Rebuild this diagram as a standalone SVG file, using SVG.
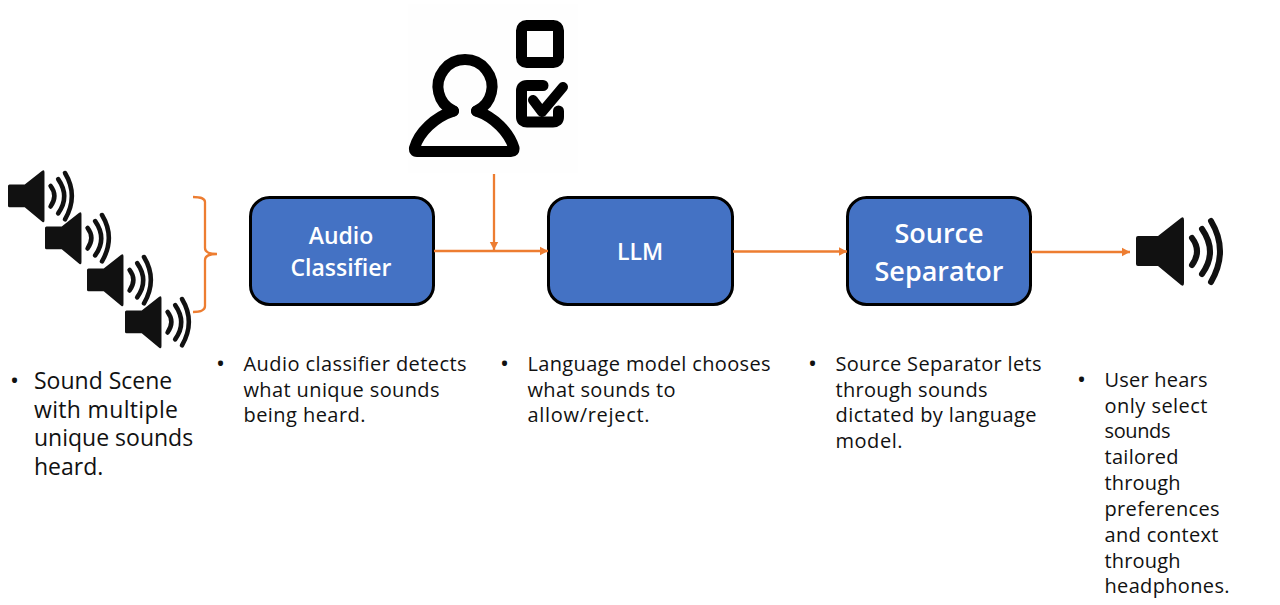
<svg xmlns="http://www.w3.org/2000/svg" width="1280" height="605" viewBox="0 0 1280 605">
<style>
text{font-family:"Open Sans","Noto Sans","Liberation Sans",sans-serif;fill:#111}
.b{font-size:20px}
.d{font-size:24px}
.h{font-size:23px}
.box{fill:#4472C4;stroke:#000;stroke-width:3}
.t{fill:#fff;font-weight:600;text-anchor:middle}
.c{fill:none;stroke:#ED7D31;stroke-width:2.300}
.i{fill:none;stroke:#000;stroke-width:11;stroke-linecap:round;stroke-linejoin:round}
.w{fill:none;stroke:#111;stroke-linecap:round;stroke-width:6}
</style>
<defs>
<marker id="a" markerUnits="userSpaceOnUse" markerWidth="10" markerHeight="10" refX="8" refY="5" orient="auto"><path d="M0 .8L8 5L0 9.200Z" fill="#ED7D31"/></marker>
<g id="spk">
<path d="M2 19H22L45 1Q48 -1 48 3V66Q48 70 45 68L22 49H2Q0 49 0 47V21Q0 19 2 19Z" fill="#111"/>
<path class="w" d="M56 21Q66 34 56 48"/>
<path class="w" d="M66 12Q82 35 66 57"/>
<path class="w" d="M75 4Q93 34 75 65"/>
</g>
</defs>
<g id="scene">
<use href="#spk" transform="translate(8 170) scale(.76)"/>
<use href="#spk" transform="translate(45 212) scale(.76)"/>
<use href="#spk" transform="translate(87 254) scale(.76)"/>
<use href="#spk" transform="translate(125 296) scale(.76)"/>
</g>
<g id="user">
<rect x="408" y="4" width="170" height="169" fill="#fefefe"/>
<path class="i" d="M453.500 111A27 27 0 1 1 476.500 111"/>
<path class="i" d="M453.500 111C435 117 419 132 414.500 148Q414 151.500 417 151.500H511Q514.500 151.500 514 148C509 132 494 117 476.500 111"/>
<rect class="i" x="521.500" y="25.500" width="37" height="37" rx="5"/>
<path class="i" d="M543 85.500H527Q521.500 85.500 521.500 91V117Q521.500 122 527 122H553Q558.500 122 558.500 117V111"/>
<path class="i" style="stroke-width:10" d="M533 100L542 112L563 87"/>
</g>
<g id="audio-classifier">
<rect class="box" x="250.500" y="197.500" width="183" height="107" rx="19"/>
<text class="t" font-size="23" x="341" y="244">Audio</text>
<text class="t" font-size="23" x="341" y="276">Classifier</text>
</g>
<g id="llm">
<rect class="box" x="548.500" y="197.500" width="184" height="107" rx="19"/>
<text class="t" font-size="23" x="640" y="260">LLM</text>
</g>
<g id="source-separator">
<rect class="box" x="847.500" y="197.500" width="183" height="107" rx="19"/>
<text class="t" font-size="27" x="939" y="243">Source</text>
<text class="t" font-size="27" x="939" y="281">Separator</text>
</g>
<g id="output">
<use href="#spk" transform="translate(1136 217)"/>
</g>
<g id="connectors">
<path class="c" d="M193 197Q205 197 205 202V248Q205 254 217 254Q205 254 205 260V306Q205 312 193 312"/>
<path class="c" marker-end="url(#a)" d="M434 251H548"/>
<path class="c" marker-end="url(#a)" d="M494 174V250"/>
<path class="c" marker-end="url(#a)" d="M733 251.500H847"/>
<path class="c" marker-end="url(#a)" d="M1031 252H1130"/>
</g>
<g id="labels">
<text class="d" x="10" y="389">•</text>
<text class="h" x="34" y="389">Sound Scene</text>
<text class="h" x="34" y="418" textLength="144">with multiple</text>
<text class="h" x="34" y="446">unique sounds</text>
<text class="h" x="34" y="475">heard.</text>
<text class="d" x="216" y="372">•</text>
<text class="b" x="243.500" y="371" textLength="223">Audio classifier detects</text>
<text class="b" x="243.500" y="397" textLength="196">what unique sounds</text>
<text class="b" x="243.500" y="422" textLength="122">being heard.</text>
<text class="d" x="500" y="372">•</text>
<text class="b" x="527.500" y="371" textLength="243">Language model chooses</text>
<text class="b" x="527.500" y="397" textLength="148">what sounds to</text>
<text class="b" x="527.500" y="422" textLength="122">allow/reject.</text>
<text class="d" x="808" y="372">•</text>
<text class="b" x="835.500" y="371" textLength="206">Source Separator lets</text>
<text class="b" x="835.500" y="397" textLength="152">through sounds</text>
<text class="b" x="835.500" y="422" textLength="201">dictated by language</text>
<text class="b" x="835.500" y="448" textLength="67">model.</text>
<text class="d" x="1077" y="388">•</text>
<text class="b" x="1104.500" y="387" textLength="103">User hears</text>
<text class="b" x="1104.500" y="413" textLength="103">only select</text>
<text class="b" x="1104.500" y="438" textLength="66">sounds</text>
<text class="b" x="1104.500" y="464" textLength="74">tailored</text>
<text class="b" x="1104.500" y="490" textLength="76">through</text>
<text class="b" x="1104.500" y="516" textLength="115">preferences</text>
<text class="b" x="1104.500" y="542" textLength="114">and context</text>
<text class="b" x="1104.500" y="568" textLength="76">through</text>
<text class="b" x="1104.500" y="593" textLength="125">headphones.</text>
</g>
</svg>
